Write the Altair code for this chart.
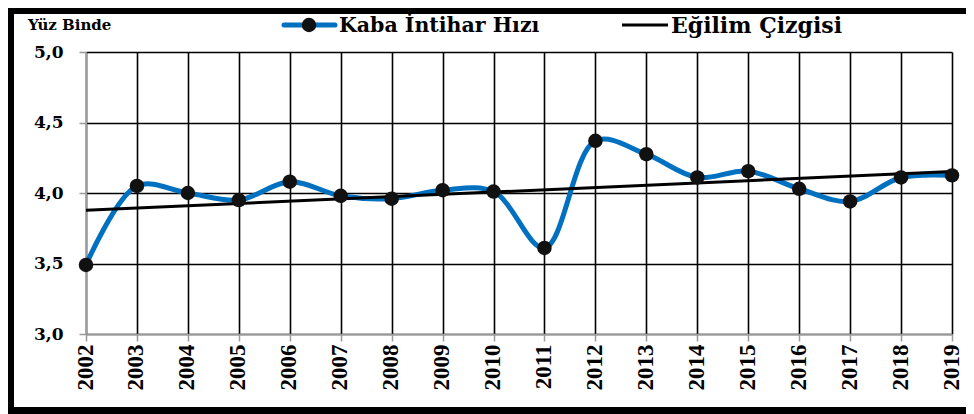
import altair as alt
import pandas as pd

years = [2002, 2003, 2004, 2005, 2006, 2007, 2008, 2009, 2010,
         2011, 2012, 2013, 2014, 2015, 2016, 2017, 2018, 2019]
values = [3.49, 4.05, 4.00, 3.95, 4.08, 3.98, 3.96, 4.02, 4.01,
          3.61, 4.37, 4.275, 4.11, 4.155, 4.03, 3.94, 4.11, 4.125]
y_ticks = [3.0, 3.5, 4.0, 4.5, 5.0]
series_name = "Kaba İntihar Hızı"
trend_name = "Eğilim Çizgisi"
unit_label = "Yüz Binde"

df = pd.DataFrame({"year": years, "value": values})

XFONT = "Liberation Serif"
FONT = "DejaVu Serif"

x = alt.X("year:Q",
          scale=alt.Scale(domain=[years[0], years[-1]], nice=False, zero=False),
          axis=alt.Axis(values=years, format="d", title=None, labelAngle=-90,
                        labelAlign="right", labelBaseline="middle",
                        labelFontSize=23, labelFontWeight="bold", labelFont=XFONT,
                        labelColor="black", tickColor="#9a9a9a", tickSize=7,
                        tickWidth=1.5, domainColor="#9a9a9a", domainWidth=1.5,
                        gridColor="black", gridWidth=1.6, labelPadding=3,
                        labelOffset=-1))
y = alt.Y("value:Q",
          scale=alt.Scale(domain=[3.0, 5.0], nice=False, zero=False),
          axis=alt.Axis(values=y_ticks, title=None,
                        labelExpr="replace(format(datum.value, '.1f'), '.', ',')",
                        labelFontSize=17, labelFontWeight="bold", labelFont=FONT,
                        labelColor="black", tickColor="#9a9a9a", tickSize=7,
                        tickWidth=1.5, domainColor="#9a9a9a", domainWidth=1.5,
                        gridColor="black", gridWidth=1.6, labelPadding=16))

base = alt.Chart(df)

line = base.mark_line(interpolate="catmull-rom", color="#0070C0",
                      strokeWidth=5).encode(x=x, y=y)
trend = base.transform_regression("year", "value").mark_line(
    color="black", strokeWidth=3).encode(x=x, y=y)
points = base.mark_circle(size=210, color="#111111", opacity=1).encode(x=x, y=y)

one = pd.DataFrame({"a": [0]})

def txt(s, xp, yp, size):
    return alt.Chart(pd.DataFrame({"t": [s]})).mark_text(
        font=FONT, fontWeight="bold", fontSize=size, align="left",
        baseline="middle", color="black").encode(
        x=alt.value(xp), y=alt.value(yp), text="t:N")

leg_line1 = alt.Chart(one).mark_rule(color="#0070C0", strokeWidth=5,
                                     strokeCap="round").encode(
    x=alt.value(198), x2=alt.value(249), y=alt.value(-27))
leg_dot = alt.Chart(one).mark_circle(size=210, color="#111111", opacity=1).encode(
    x=alt.value(223), y=alt.value(-27))
leg_line2 = alt.Chart(one).mark_rule(color="black", strokeWidth=3).encode(
    x=alt.value(536), x2=alt.value(582), y=alt.value(-27))

border_top = alt.Chart(one).mark_rule(color="black", strokeWidth=6).encode(
    x=alt.value(-78), x2=alt.value(890), y=alt.value(-41))
border_left = alt.Chart(one).mark_rule(color="black", strokeWidth=6).encode(
    x=alt.value(-75), y=alt.value(-44), y2=alt.value(362))
border_bottom = alt.Chart(one).mark_rule(color="black", strokeWidth=7).encode(
    x=alt.value(-78), x2=alt.value(890), y=alt.value(358.5))

chart = alt.layer(
    line, trend, points,
    leg_line1, leg_dot, txt(series_name, 253, -26, 20.5),
    leg_line2, txt(trend_name, 585, -26, 22),
    txt(unit_label, -58, -27, 15),
    border_top, border_left, border_bottom,
).properties(
    width=866, height=282,
    autosize=alt.AutoSizeParams(type="none"),
    padding={"left": 78, "top": 44, "right": 14, "bottom": 80},
    background="white",
).configure_view(stroke=None)

chart.save("out.html", embed_options={"renderer": "svg", "actions": False})
